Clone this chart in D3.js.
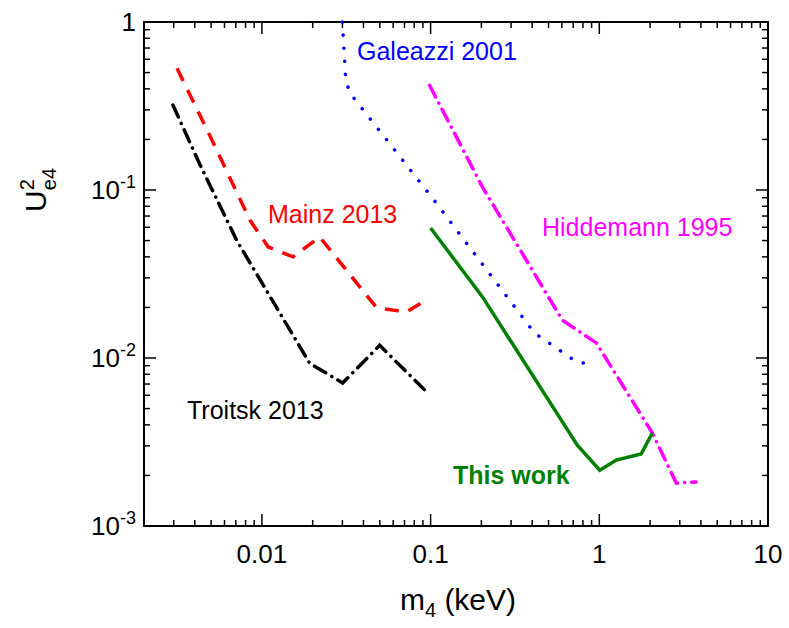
<!DOCTYPE html>
<html><head><meta charset="utf-8">
<script src="https://cdn.jsdelivr.net/npm/d3@7"></script>
<style>body{margin:0;background:#fff}text{font-family:"Liberation Sans",Arial,sans-serif}</style>
</head><body><svg id="c" width="789" height="628"></svg>
<script>
const troitskX=[0.00297,0.0043,0.0071,0.0192,0.0301,0.0499,0.096];
const troitskY=[0.32,0.141,0.050,0.0093,0.0071,0.0119,0.0062];
const mainzX=[0.00314,0.0049,0.0085,0.0109,0.0153,0.022,0.0479,0.072,0.092];
const mainzY=[0.53,0.212,0.066,0.0458,0.040,0.0525,0.0199,0.0188,0.0218];
const galeazziX=[0.030,0.0314,0.0332,0.1014,0.412,0.731,0.933];
const galeazziY=[1.0,0.452,0.378,0.0908,0.0141,0.0095,0.0091];
const hiddemannX=[0.0986,0.203,0.604,0.96,2.06,2.86,3.75];
const hiddemannY=[0.42,0.104,0.0168,0.0123,0.00358,0.0018,0.00183];
const thisX=[0.1,0.203,0.741,1.006,1.26,1.77,2.06];
const thisY=[0.0594,0.0231,0.00303,0.00215,0.00247,0.00268,0.00358];
const xTicks=[0.01,0.1,1,10], xTickLabels=["0.01","0.1","1","10"];
const yTicks=[1,0.1,0.01,0.001];

const svg=d3.select("#c");
const L=144,R=768,T=22,B=526;
const x=d3.scaleLog().domain([0.002,10]).range([L,R]);
const y=d3.scaleLog().domain([0.001,1]).range([B,T]);
const g=svg.append("g");
function minors(dom){const a=[];for(let e=-3;e<=1;e++)for(let k=1;k<10;k++){const v=k*Math.pow(10,e);if(v>=dom[0]*0.999&&v<=dom[1]*1.001)a.push(v);}return a;}
minors(x.domain()).forEach(v=>{const maj=Math.abs(Math.log10(v)-Math.round(Math.log10(v)))<1e-6;const len=maj?12:6;
 g.append("line").attr("x1",x(v)).attr("x2",x(v)).attr("y1",B).attr("y2",B-len).attr("stroke","#000").attr("stroke-width",1.5);
 g.append("line").attr("x1",x(v)).attr("x2",x(v)).attr("y1",T).attr("y2",T+len).attr("stroke","#000").attr("stroke-width",1.5);});
minors(y.domain()).forEach(v=>{const maj=Math.abs(Math.log10(v)-Math.round(Math.log10(v)))<1e-6;const len=maj?12:6;
 g.append("line").attr("y1",y(v)).attr("y2",y(v)).attr("x1",L).attr("x2",L+len).attr("stroke","#000").attr("stroke-width",1.5);
 g.append("line").attr("y1",y(v)).attr("y2",y(v)).attr("x1",R).attr("x2",R-len).attr("stroke","#000").attr("stroke-width",1.5);});
g.append("rect").attr("x",L).attr("y",T).attr("width",R-L).attr("height",B-T).attr("fill","none").attr("stroke","#000").attr("stroke-width",2);
xTicks.forEach((v,i)=>g.append("text").attr("x",x(v)).attr("y",B+37).attr("text-anchor","middle").attr("font-size",26).text(xTickLabels[i]));
yTicks.forEach(v=>{const e=Math.round(Math.log10(v));const t=g.append("text").attr("y",y(v)+9).attr("text-anchor","end").attr("font-size",26);
 t.attr("x",L-8);
 if(e===0){t.text("1");}else{t.append("tspan").text("10");t.append("tspan").attr("dy",-11).attr("font-size",18).text(String(e));}
});
svg.append("text").attr("x",458).attr("y",610).attr("text-anchor","middle").attr("font-size",30)
 .html('m<tspan dy="7" font-size="20">4</tspan><tspan dy="-7"> (keV)</tspan>');
svg.append("text").attr("transform","translate(46,190) rotate(-90)").attr("text-anchor","middle").attr("font-size",30)
 .html('U<tspan dx="0" dy="-12" font-size="20">2</tspan><tspan dx="-11" dy="22" font-size="20">e4</tspan>');
const line=d3.line().x(d=>x(d[0])).y(d=>y(d[1]));
function draw(X,Y,color,dash,cap){svg.append("path").attr("d",line(X.map((v,i)=>[v,Y[i]]))).attr("fill","none")
 .attr("stroke",color).attr("stroke-width",3.5).attr("stroke-dasharray",dash).attr("stroke-linecap",cap||"butt");}
draw(troitskX,troitskY,"#000","13,7,0.1,7","round");
draw(mainzX,mainzY,"#f00","14,10");
draw(galeazziX,galeazziY,"#00f","0.1,13","round");
draw(hiddemannX,hiddemannY,"#f0f","13,7,0.1,7","round");
draw(thisX,thisY,"#008000",null);
const lab=(t,xx,yy,c,b)=>svg.append("text").attr("x",xx).attr("y",yy).attr("fill",c).attr("font-size",25).attr("font-weight",b?"bold":"normal").text(t);
lab("Galeazzi 2001",357,60,"#00f");
lab("Mainz 2013",268,223,"#f00");
lab("Hiddemann 1995",542,236,"#f0f");
lab("Troitsk 2013",187,419,"#000");
lab("This work",453,484,"#008000",true);
</script></body></html>
